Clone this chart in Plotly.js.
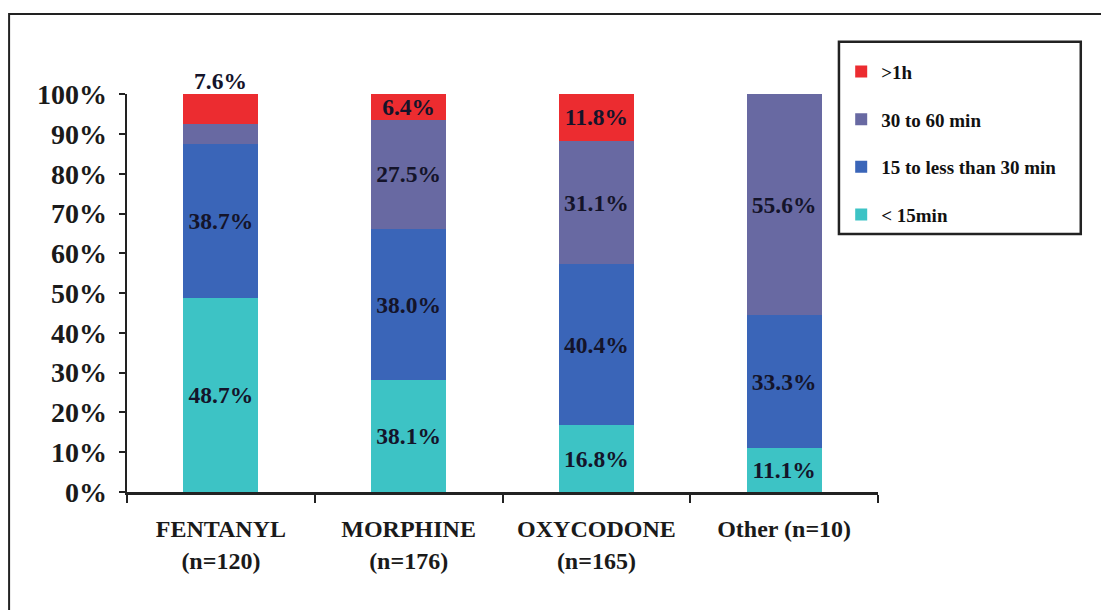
<!DOCTYPE html>
<html>
<head>
<meta charset="utf-8">
<script src="https://cdn.plot.ly/plotly-3.0.1.min.js"></script>
<style>html,body{margin:0;padding:0;background:#fff;}#chart{width:1101px;height:610px;}</style>
</head>
<body>
<div id="chart"></div>
<script>
// Categories (x tick labels)
const categories = ["FENTANYL<br>(n=120)", "MORPHINE<br>(n=176)", "OXYCODONE<br>(n=165)", "Other (n=10)"];

// Series values (bar heights, %)
const under15 = [48.7, 28.1, 16.8, 11.1];
const from15to30 = [38.7, 38.0, 40.4, 33.3];
const from30to60 = [5.0, 27.5, 31.1, 55.6];
const over1h = [7.6, 6.4, 11.7, 0];

// Printed labels as they appear on the original figure
const under15Labels = ["48.7%", "38.1%", "16.8%", "11.1%"];
const from15to30Labels = ["38.7%", "38.0%", "40.4%", "33.3%"];
const from30to60Labels = ["", "27.5%", "31.1%", "55.6%"];
const over1hLabels = ["7.6%", "6.4%", "11.8%", ""];
// which >1h labels sit above the bar rather than inside it
const over1hOutside = [true, false, false, false];

// Y tick values
const yTicks = [0, 10, 20, 30, 40, 50, 60, 70, 80, 90, 100];
const yTickText = yTicks.map(v => v + "%");

const serif = "Liberation Serif, Times New Roman, serif";
const labelFont = {family: serif, size: 23.5, color: "#14142a", weight: "bold"};

function series(name, y, labels, color, rank) {
  return {
    type: "bar", name: name, x: categories, y: y, text: labels,
    texttemplate: "<b>%{text}</b>",
    textposition: "inside", insidetextanchor: "middle",
    textfont: labelFont, insidetextfont: labelFont,
    constraintext: "none", cliponaxis: false,
    marker: {color: color, line: {width: 0}},
    legendgroup: name, legendrank: rank, hoverinfo: "skip"
  };
}

const data = [
  series("< 15min", under15, under15Labels, "#3dc3c5", 4),
  series("15 to less than 30 min", from15to30, from15to30Labels, "#3a65b8", 3),
  series("30 to 60 min", from30to60, from30to60Labels, "#6869a2", 2),
  series(">1h", over1h, over1hLabels.map((t, i) => over1hOutside[i] ? "" : t), "#ec2c30", 1)
];

// labels placed above the stack top (position taken from the data)
const annotations = [];
over1hOutside.forEach((out, i) => {
  if (!out) return;
  const top = under15[i] + from15to30[i] + from30to60[i] + over1h[i];
  annotations.push({
    x: categories[i], y: top, xref: "x", yref: "y", text: "<b>" + over1hLabels[i] + "</b>",
    showarrow: false, yanchor: "bottom", yshift: -2, font: labelFont
  });
});

const layout = {
  width: 1101, height: 610,
  margin: {l: 127, r: 223, t: 94, b: 118},
  paper_bgcolor: "#fff", plot_bgcolor: "#fff",
  barmode: "stack", bargap: 0.6,
  showlegend: true,
  legend: {
    x: 0.951, y: 1.104, xanchor: "left", yanchor: "top",
    bgcolor: "rgba(0,0,0,0)", borderwidth: 0,
    traceorder: "grouped", tracegroupgap: 20,
    font: {family: serif, size: 19, color: "#111", weight: "bold"}
  },
  xaxis: {
    type: "category", tickson: "boundaries", ticks: "outside", ticklen: 8, tickwidth: 2, tickcolor: "#222",
    showline: true, linecolor: "#222", linewidth: 2.5, showgrid: false, zeroline: false,
    tickfont: {family: serif, size: 24, color: "#1a1a1a", weight: "bold"},
    ticklabelstandoff: 14, fixedrange: true
  },
  yaxis: {
    range: [0, 100.05], tickvals: yTicks, ticktext: yTickText,
    ticks: "outside", ticklen: 6, tickwidth: 2, tickcolor: "#222",
    showline: true, linecolor: "#222", linewidth: 2.5, showgrid: false, zeroline: false,
    tickfont: {family: serif, size: 28, color: "#1a1a1a", weight: "bold"},
    ticklabelstandoff: 6, fixedrange: true
  },
  annotations: annotations,
  shapes: [
    {type: "rect", xref: "paper", yref: "paper", x0: -0.157, x1: 1.32, y0: -0.35, y1: 1.201,
     line: {color: "#222", width: 2}, fillcolor: "rgba(0,0,0,0)", layer: "below"},
    {type: "rect", xref: "paper", yref: "paper", x0: 0.948, x1: 1.270, y0: 0.648, y1: 1.131,
     line: {color: "#222", width: 2.5}, fillcolor: "rgba(0,0,0,0)"}
  ]
};

Plotly.newPlot("chart", data, layout, {displayModeBar: false, staticPlot: true});
</script>
</body>
</html>
